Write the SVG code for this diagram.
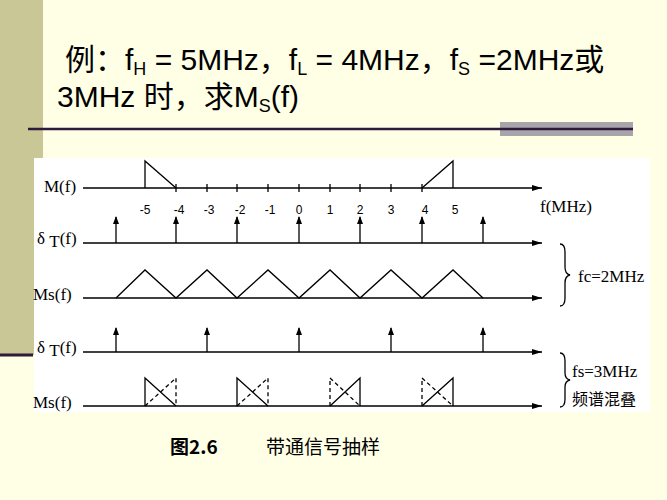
<svg xmlns="http://www.w3.org/2000/svg" width="667" height="500" viewBox="0 0 667 500">
<defs>
<marker id="ah" markerWidth="10" markerHeight="8" refX="10" refY="4" orient="auto" markerUnits="userSpaceOnUse"><path d="M0,1 L10,4 L0,7 Z" fill="#000"/></marker>
<marker id="sa" markerWidth="8" markerHeight="8" refX="7" refY="4" orient="auto" markerUnits="userSpaceOnUse"><path d="M0,1 L8,4 L0,7 Z" fill="#000"/></marker>
<style>
.ax{stroke:#000;stroke-width:1.6;fill:none}
.ln{stroke:#000;stroke-width:1.3;fill:none}
.ds{stroke:#000;stroke-width:1.3;fill:none;stroke-dasharray:4,3}
.lb{font-family:"Liberation Serif",serif;font-size:17px;fill:#000}
.tk{font-family:"Liberation Sans",sans-serif;font-size:12px;fill:#000;text-anchor:middle}
.ti{font-family:"Liberation Sans","Noto Sans CJK SC",sans-serif;font-size:30px;fill:#000}
</style>
</defs>
<rect width="667" height="500" fill="#ffffe6"/>
<rect x="0" y="0" width="43" height="355" fill="#c9c795"/>
<line x1="0" y1="355" x2="33" y2="355" stroke="#2e1a3a" stroke-width="3"/>
<rect x="500" y="122" width="133" height="14" fill="#a8a4ac"/>
<line x1="28" y1="129" x2="633" y2="129" stroke="#2e1a3a" stroke-width="2.5"/>
<g id="title">
<text class="ti" x="65" y="70">例：f<tspan font-size="18" dy="5">H</tspan><tspan dy="-5"> = 5MHz，f</tspan><tspan font-size="18" dy="5">L</tspan><tspan dy="-5"> = 4MHz，f</tspan><tspan font-size="18" dy="5">S</tspan><tspan dy="-5"> =2MHz或</tspan></text>
<text class="ti" x="57" y="107">3MHz 时，求M<tspan font-size="18" dy="5">S</tspan><tspan dy="-5">(f)</tspan></text>
</g>
<rect x="34" y="158" width="616" height="254" fill="#ffffff"/>
<g id="labels">
<text class="lb" x="44" y="192">M(f)</text>
<text class="lb" x="37" y="244">δ <tspan dy="3">T</tspan><tspan dy="-3">(f)</tspan></text>
<text class="lb" x="33" y="300">Ms(f)</text>
<text class="lb" x="37" y="353">δ <tspan dy="3">T</tspan><tspan dy="-3">(f)</tspan></text>
<text class="lb" x="33" y="408">Ms(f)</text>
<text class="lb" x="540" y="212">f(MHz)</text>
<text class="lb" x="578" y="282">fc=2MHz</text>
<text class="lb" x="572" y="377">fs=3MHz</text>
<text x="572" y="405" font-family="'Noto Sans CJK SC',sans-serif" font-size="16">频谱混叠</text>
</g>
<g id="ticks">
<text class="tk" x="145" y="214">-5</text><text class="tk" x="179" y="214">-4</text><text class="tk" x="209" y="214">-3</text><text class="tk" x="240" y="214">-2</text><text class="tk" x="270" y="214">-1</text><text class="tk" x="299" y="214">0</text><text class="tk" x="330" y="214">1</text><text class="tk" x="360" y="214">2</text><text class="tk" x="391" y="214">3</text><text class="tk" x="425" y="214">4</text><text class="tk" x="455" y="214">5</text>
</g>
<g id="connectors">
<line class="ax" x1="83" y1="188" x2="542" y2="188" marker-end="url(#ah)"/>
<line class="ax" x1="83" y1="243" x2="542" y2="243" marker-end="url(#ah)"/>
<line class="ax" x1="83" y1="298" x2="542" y2="298" marker-end="url(#ah)"/>
<line class="ax" x1="83" y1="352" x2="542" y2="352" marker-end="url(#ah)"/>
<line class="ax" x1="83" y1="406" x2="542" y2="406" marker-end="url(#ah)"/>
<path class="ln" d="M176,184v8M207,184v8M237,184v8M268,184v8M299,184v8M330,184v8M360,184v8M391,184v8M422,184v8"/>
<path class="ln" d="M145,188V161L176,188M422,188L453,161V188"/>
<g marker-end="url(#sa)">
<line class="ln" x1="116" y1="243" x2="116" y2="217"/><line class="ln" x1="176" y1="243" x2="176" y2="217"/><line class="ln" x1="237" y1="243" x2="237" y2="217"/><line class="ln" x1="299" y1="243" x2="299" y2="217"/><line class="ln" x1="360" y1="243" x2="360" y2="217"/><line class="ln" x1="422" y1="243" x2="422" y2="217"/><line class="ln" x1="483" y1="243" x2="483" y2="217"/>
<line class="ln" x1="116" y1="352" x2="116" y2="328"/><line class="ln" x1="207" y1="352" x2="207" y2="328"/><line class="ln" x1="299" y1="352" x2="299" y2="328"/><line class="ln" x1="391" y1="352" x2="391" y2="328"/><line class="ln" x1="483" y1="352" x2="483" y2="328"/>
</g>
<path class="ln" d="M116,298L145,270L176,298L207,270L237,298L268,270L299,298L330,270L360,298L391,270L422,298L453,270L483,298"/>
<path class="ln" d="M145,406V378L176,406M237,406V378L268,406M330,406L360,378V406M422,406L453,378V406"/>
<path class="ds" d="M145,406L176,378V406M237,406L268,378V406M330,406V378L360,406M422,406V378L453,406"/>
<path class="ln" d="M560,244q5,0 5,8v15q0,7 5,8q-5,1 -5,8v15q0,8 -5,8"/>
<path class="ln" d="M560,353q5,0 5,8v12q0,6 5,7q-5,1 -5,7v12q0,8 -5,8"/>
</g>
<text x="170" y="454" font-family="'Noto Sans CJK SC',sans-serif" font-size="19" font-weight="bold">图2.6</text>
<text x="266" y="454" font-family="'Noto Sans CJK SC',sans-serif" font-size="19">带通信号抽样</text>
</svg>
